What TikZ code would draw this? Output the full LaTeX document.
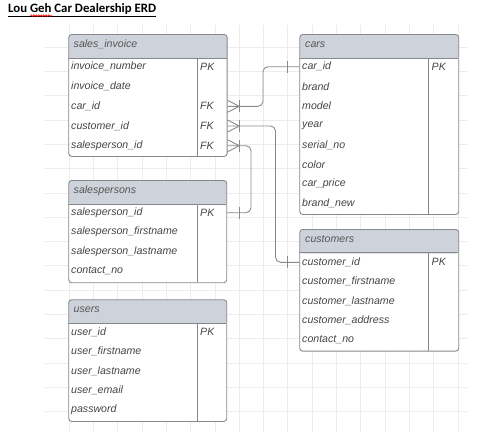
\documentclass[tikz,border=0pt]{standalone}
\usepackage{fontspec}
\setmainfont{Liberation Sans}
\newfontfamily\titlefont{Carlito}
\usetikzlibrary{decorations.pathmorphing}
\definecolor{gridc}{HTML}{ECECEC}
\definecolor{bordc}{HTML}{85888E}
\definecolor{hdrc}{HTML}{CED3DB}
\definecolor{txtc}{HTML}{454545}
\definecolor{hdrtxt}{HTML}{555555}
\definecolor{connc}{HTML}{8A8A8A}
\tikzset{
  gridline/.style={draw=gridc, line width=0.8pt},
  tbl/.style={draw=bordc, fill=white, line width=0.9pt, rounded corners=3pt, inner sep=0pt, anchor=north west,
    path picture={\fill[hdrc] (path picture bounding box.north west) rectangle ([yshift=-24.2]path picture bounding box.north east);}},
  sep/.style={draw=bordc, line width=0.9pt},
  fld/.style={anchor=west, inner sep=0pt, text=txtc, font=\fontsize{10.6}{12}\selectfont\itshape},
  hdr/.style={anchor=west, inner sep=0pt, text=hdrtxt, font=\fontsize{10.6}{12}\selectfont\itshape},
  conn/.style={draw=connc, line width=0.9pt},
  crowmany/.pic={\draw[conn] (0,-6) -- (11.6,0) -- (0,6); \draw[conn] (11.6,-6) -- (11.6,6);},
}
\begin{document}
\begin{tikzpicture}[x=1pt,y=-1pt]
\useasboundingbox (0,0) rectangle (486,440);
% grid
\foreach \i in {1,...,17} \draw[gridline] ({44.8+24.3*\i},25) -- ({44.8+24.3*\i},432);
\foreach \j in {1,...,16} \draw[gridline] (45,{22.8+24.3*\j}) -- (467,{22.8+24.3*\j});
% title
\node[anchor=base west, inner sep=0pt, font=\titlefont\bfseries\fontsize{12.8}{14}\selectfont] (title) at (8,12.3) {\underline{Lou Geh Car Dealership ERD}};
\draw[red, line width=0.6pt, decorate, decoration={snake, amplitude=0.8pt, segment length=2.5pt}] (30.5,15.6) -- (52,15.6);

% sales_invoice
\node[tbl, minimum width=158.4, minimum height=122] (si) at (68.3,34) {};
\draw[sep] (68.3,58.3) -- (226.7,58.3);
\draw[sep] (197.3,58.3) -- (197.3,156);
\node[hdr] (si-h) at (73.5,44.5) {sales\_invoice};
\node[fld] (si-inv) at (71,66.7) {invoice\_number};
\node[fld] (si-date) at (71,86.5) {invoice\_date};
\node[fld] (si-car) at (71,106.3) {car\_id};
\node[fld] (si-cus) at (71,126) {customer\_id};
\node[fld] (si-sp) at (71,145.7) {salesperson\_id};
\node[fld] (si-k1) at (200,66.7) {PK};
\node[fld] (si-k2) at (200,106.3) {FK};
\node[fld] (si-k3) at (200,126) {FK};
\node[fld] (si-k4) at (200,145.7) {FK};

% cars
\node[tbl, minimum width=159, minimum height=180] (cars) at (299.3,34) {};
\draw[sep] (299.3,58) -- (458.3,58);
\draw[sep] (428.5,58) -- (428.5,214);
\node[hdr] (cars-h) at (305,44.5) {cars};
\node[fld] (cars-id) at (302,66.7) {car\_id};
\node[fld] (cars-br) at (302,86.3) {brand};
\node[fld] (cars-mo) at (302,105.8) {model};
\node[fld] (cars-yr) at (302,125.3) {year};
\node[fld] (cars-sn) at (302,144.8) {serial\_no};
\node[fld] (cars-co) at (302,164.3) {color};
\node[fld] (cars-pr) at (302,183.8) {car\_price};
\node[fld] (cars-bn) at (302,203) {brand\_new};
\node[fld] (cars-k1) at (431.5,66.7) {PK};

% salespersons
\node[tbl, minimum width=158, minimum height=102.3] (sp) at (68.3,180) {};
\draw[sep] (68.3,204) -- (226.3,204);
\draw[sep] (197.3,204) -- (197.3,282.3);
\node[hdr] (sp-h) at (73.5,190.5) {salespersons};
\node[fld] (sp-id) at (71,212.7) {salesperson\_id};
\node[fld] (sp-fn) at (71,232.2) {salesperson\_firstname};
\node[fld] (sp-ln) at (71,251.7) {salesperson\_lastname};
\node[fld] (sp-cn) at (71,271.2) {contact\_no};
\node[fld] (sp-k1) at (200,212.7) {PK};

% users
\node[tbl, minimum width=158, minimum height=121.7] (us) at (68.3,299.3) {};
\draw[sep] (68.3,323.3) -- (226.3,323.3);
\draw[sep] (197.3,323.3) -- (197.3,421);
\node[hdr] (us-h) at (73.5,310) {users};
\node[fld] (us-id) at (71,332.3) {user\_id};
\node[fld] (us-fn) at (71,351.7) {user\_firstname};
\node[fld] (us-ln) at (71,371.1) {user\_lastname};
\node[fld] (us-em) at (71,390.6) {user\_email};
\node[fld] (us-pw) at (71,410) {password};
\node[fld] (us-k1) at (200,332.3) {PK};

% customers
\node[tbl, minimum width=159, minimum height=121.7] (cu) at (299.3,229) {};
\draw[sep] (299.3,252.7) -- (458.3,252.7);
\draw[sep] (428.3,252.7) -- (428.3,350.7);
\node[hdr] (cu-h) at (305,239.5) {customers};
\node[fld] (cu-id) at (302,262.3) {customer\_id};
\node[fld] (cu-fn) at (302,281.6) {customer\_firstname};
\node[fld] (cu-ln) at (302,300.9) {customer\_lastname};
\node[fld] (cu-ad) at (302,320.2) {customer\_address};
\node[fld] (cu-cn) at (302,339.5) {contact\_no};
\node[fld] (cu-k1) at (431.5,262.3) {PK};

% connectors
\draw[conn, rounded corners=5pt] (si.east |- si-car) -- (263,106.3) -- (263,66.7) -- (cars.west |- cars-id);
\pic at (si.east |- si-car) {crowmany};
\draw[conn] ([xshift=-12.3,yshift=6]cars.west |- cars-id) -- ([xshift=-12.3,yshift=-6]cars.west |- cars-id);

\draw[conn, rounded corners=5pt] (si.east |- si-cus) -- (275.5,126) -- (275.5,262.3) -- (cu.west |- cu-id);
\pic at (si.east |- si-cus) {crowmany};
\draw[conn] ([xshift=-12.3,yshift=6]cu.west |- cu-id) -- ([xshift=-12.3,yshift=-6]cu.west |- cu-id);

\draw[conn, rounded corners=5pt] (si.east |- si-sp) -- (251,145.7) -- (251,212.7) -- (sp.east |- sp-id);
\pic at (si.east |- si-sp) {crowmany};
\draw[conn] ([xshift=12.5,yshift=6]sp.east |- sp-id) -- ([xshift=12.5,yshift=-6]sp.east |- sp-id);
\end{tikzpicture}
\end{document}
